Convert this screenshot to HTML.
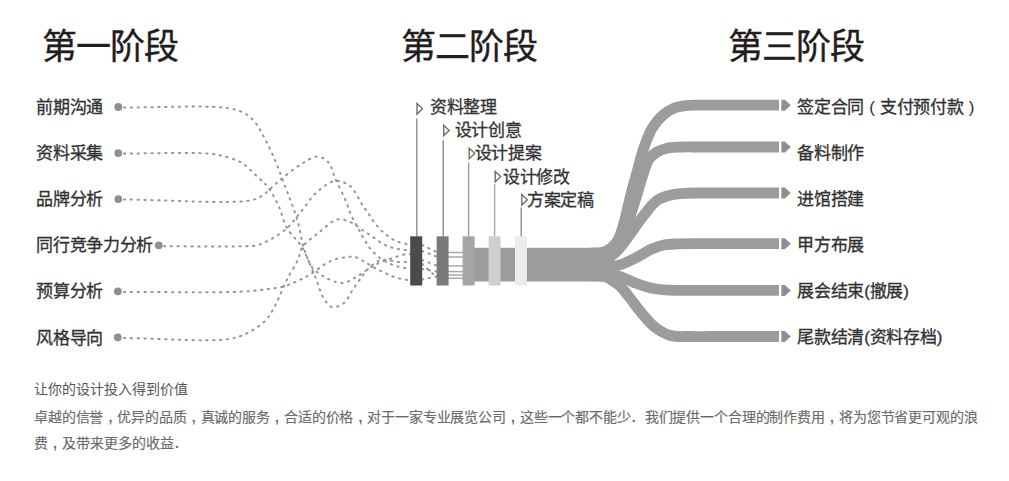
<!DOCTYPE html>
<html lang="zh-CN"><head><meta charset="utf-8"><style>
html,body{margin:0;padding:0;background:#fff;width:1009px;height:481px;overflow:hidden;position:relative}
.pp{display:inline-block;width:15.5px;text-align:center;font-family:"Liberation Sans",sans-serif;font-weight:400;-webkit-text-stroke:0}
.cm{display:inline-block;width:14px;text-align:center;font-family:"Liberation Sans",sans-serif;font-weight:700;-webkit-text-stroke:0}
.dt{display:inline-block;width:14px;text-align:left;text-indent:1px;font-family:"Liberation Sans",sans-serif;font-weight:700;-webkit-text-stroke:0}
.t{position:absolute;font-weight:500;white-space:nowrap;font-family:"Liberation Sans",sans-serif;line-height:1.2}
</style></head><body>
<svg width="1009" height="481" viewBox="0 0 1009 481" style="position:absolute;left:0;top:0">
<g fill="none" stroke="#959595" stroke-width="2" stroke-linecap="round" stroke-dasharray="1.3 5.55">
<path d="M124.00,107.50 C156.67,107.50 201.88,105.32 222.00,107.50 C231.10,108.49 236.04,109.27 241.60,111.80 C246.48,114.02 250.23,116.83 254.00,121.00 C258.74,126.25 262.69,134.73 266.50,142.00 C270.37,149.39 273.75,157.21 277.00,165.00 C280.26,172.81 283.36,181.89 286.00,188.80 C288.05,194.15 289.66,197.93 291.50,203.00 C293.59,208.76 295.86,214.77 297.80,221.60 C300.10,229.71 301.12,239.37 304.00,248.60 C307.18,258.79 313.03,271.12 316.50,280.00 C319.04,286.52 320.12,292.30 323.00,297.00 C325.47,301.04 328.43,306.06 332.00,307.00 C335.46,307.91 340.73,305.50 344.00,303.00 C347.50,300.33 349.24,295.07 352.00,291.00 C354.89,286.74 358.02,282.00 361.00,278.00 C363.68,274.40 365.80,270.94 369.00,268.00 C372.40,264.89 376.36,261.13 381.00,260.00 C386.20,258.74 393.73,261.71 399.00,262.00 C403.11,262.23 406.33,262.00 410.00,262.00"/>
<path d="M124.00,153.50 C152.00,153.50 192.30,152.28 208.00,153.50 C214.16,153.98 216.08,154.31 220.80,155.50 C226.96,157.05 235.40,159.14 241.60,162.80 C247.79,166.45 253.19,172.86 258.00,177.40 C261.98,181.15 265.36,183.68 268.60,188.00 C272.49,193.19 275.95,200.40 279.00,207.00 C282.10,213.72 283.28,221.44 287.00,228.00 C290.86,234.81 297.78,240.36 302.00,247.00 C306.05,253.38 307.96,261.95 312.00,267.00 C315.22,271.03 318.59,273.48 323.00,276.00 C328.27,279.01 335.97,283.18 342.00,283.00 C347.60,282.83 352.87,278.80 358.00,276.00 C363.21,273.15 367.87,268.79 373.00,266.00 C377.88,263.34 382.64,261.43 388.00,259.50 C393.90,257.38 403.38,254.51 407.00,254.00 C408.41,253.80 409.00,254.00 410.00,254.00"/>
<path d="M124.00,199.50 C166.00,199.83 230.10,204.21 250.00,200.50 C256.47,199.29 259.10,197.57 262.40,195.60 C264.97,194.07 266.29,192.41 268.60,190.40 C271.64,187.75 274.84,184.45 279.00,181.00 C284.70,176.26 293.08,169.21 300.00,165.00 C305.96,161.37 312.50,156.41 317.70,156.60 C321.93,156.75 326.17,159.76 329.00,163.00 C332.16,166.62 332.61,172.53 335.00,178.00 C337.99,184.83 342.97,193.94 345.80,200.70 C348.00,205.96 348.95,210.42 351.00,215.00 C353.02,219.51 355.75,223.85 358.00,228.00 C360.07,231.82 361.77,235.35 364.00,239.00 C366.35,242.85 368.69,247.04 371.80,250.50 C375.00,254.06 378.94,257.41 383.00,260.00 C387.01,262.56 391.50,264.50 396.00,266.00 C400.50,267.50 405.33,268.00 410.00,269.00"/>
<path d="M164.00,246.30 C189.33,246.30 223.74,246.78 240.00,246.30 C247.70,246.07 251.74,246.56 257.00,245.30 C261.93,244.12 266.03,241.90 270.70,239.30 C276.13,236.28 282.48,232.24 287.40,227.80 C292.22,223.45 295.55,218.37 300.00,213.00 C305.19,206.73 310.37,197.86 316.60,192.40 C322.28,187.43 329.38,181.65 335.40,181.00 C340.44,180.46 345.79,182.73 350.00,186.00 C355.10,189.97 359.04,200.04 362.40,205.00 C364.60,208.26 366.01,210.11 368.00,213.00 C370.33,216.37 372.69,220.57 375.50,224.00 C378.32,227.44 381.48,230.76 384.90,233.60 C388.31,236.43 391.92,239.12 396.00,241.00 C400.26,242.97 405.33,243.67 410.00,245.00"/>
<path d="M124.00,292.00 C163.20,291.87 216.22,292.86 241.60,291.60 C253.79,290.99 260.74,290.10 268.60,289.00 C274.77,288.14 279.73,287.55 285.00,286.00 C290.20,284.47 295.46,281.95 300.00,279.80 C303.95,277.93 306.67,276.43 310.80,274.00 C316.67,270.54 324.83,263.42 331.60,260.60 C337.18,258.28 343.66,257.47 348.00,257.00 C350.80,256.70 352.57,256.42 355.00,257.00 C357.96,257.71 361.23,260.00 364.30,261.70 C367.43,263.43 370.31,265.48 373.60,267.30 C377.15,269.26 381.12,271.27 384.90,273.00 C388.59,274.69 392.02,276.38 396.00,277.60 C400.34,278.93 405.33,279.53 410.00,280.50"/>
<path d="M124.00,338.00 C159.00,338.33 208.34,342.22 229.00,339.00 C237.97,337.60 241.91,335.71 247.80,332.80 C253.75,329.86 260.16,325.61 264.50,321.40 C268.12,317.89 270.38,314.00 272.80,310.00 C275.21,306.00 276.82,302.03 279.00,297.40 C281.63,291.80 284.31,284.87 287.40,278.70 C290.56,272.40 295.17,265.77 297.80,260.00 C299.91,255.37 299.70,251.11 302.50,247.00 C306.03,241.82 313.23,237.07 319.00,232.50 C324.85,227.86 331.47,220.61 337.40,219.40 C342.06,218.45 346.82,220.62 351.00,222.40 C355.15,224.17 358.61,227.49 362.40,230.00 C366.15,232.49 369.86,234.91 373.60,237.40 C377.36,239.91 381.01,243.11 384.90,245.00 C388.50,246.75 392.04,247.70 396.00,248.60 C400.35,249.59 405.33,249.87 410.00,250.50"/>
<path d="M422,245.0 L436.5,252.0"/>
<path d="M422,251.0 L436.5,256.5"/>
<path d="M422,260.0 L436.5,265.5"/>
<path d="M422,264.0 L436.5,277.0"/>
<path d="M422,269.0 L436.5,271.5"/>
<path d="M422,279.5 L436.5,276.5"/>
</g>
<g stroke="#a8a8a8" stroke-width="1.5">
<line x1="448" y1="252.5" x2="463" y2="252.5"/>
<line x1="448" y1="257.0" x2="463" y2="257.0"/>
<line x1="448" y1="266.0" x2="463" y2="266.0"/>
<line x1="448" y1="271.6" x2="463" y2="271.6"/>
<line x1="448" y1="275.0" x2="463" y2="275.0"/>
<line x1="448" y1="278.3" x2="463" y2="278.3"/>
</g>
<g fill="#8f8f8f">
<circle cx="118.3" cy="107.0" r="3.9"/>
<circle cx="118.3" cy="153.1" r="3.9"/>
<circle cx="118.3" cy="199.1" r="3.9"/>
<circle cx="158.8" cy="245.3" r="3.9"/>
<circle cx="117.8" cy="291.3" r="3.9"/>
<circle cx="117.8" cy="337.3" r="3.9"/>
</g>
<line x1="416.8" y1="118.5" x2="416.8" y2="237" stroke="#8e8e8e" stroke-width="1.4"/>
<line x1="443.2" y1="140.5" x2="443.2" y2="237" stroke="#8a8a8a" stroke-width="1.4"/>
<line x1="468.6" y1="162.5" x2="468.6" y2="237" stroke="#9c9c9c" stroke-width="1.4"/>
<line x1="494.6" y1="184.0" x2="494.6" y2="237" stroke="#ababab" stroke-width="1.4"/>
<line x1="521.2" y1="207.5" x2="521.2" y2="237" stroke="#8e8e8e" stroke-width="1.4"/>
<g fill="none" stroke="#6e6e6e" stroke-width="1.4" stroke-linejoin="miter">
<path d="M417.0,103.6 L422.5,108.8 L417.0,114.0 Z"/>
<path d="M443.7,125.2 L449.2,130.4 L443.7,135.6 Z"/>
<path d="M469.2,148.3 L474.7,153.5 L469.2,158.7 Z"/>
<path d="M495.2,171.4 L500.7,176.6 L495.2,181.8 Z"/>
<path d="M521.8,194.6 L527.3,199.8 L521.8,205.0 Z"/>
</g>
<rect x="474" y="247.8" width="134" height="33.7" fill="#9c9c9c"/>
<rect x="410.2" y="236.3" width="12" height="49.2" fill="#4d4a4b"/>
<rect x="436.6" y="236.3" width="12" height="49.2" fill="#797979"/>
<rect x="462.6" y="236.3" width="12" height="49.2" fill="#a6a6a6"/>
<rect x="488.6" y="236.3" width="12" height="49.2" fill="#cfcfcf"/>
<rect x="515.0" y="236.3" width="12" height="49.2" fill="#ececec"/>
<g fill="none" stroke="#9c9c9c" stroke-width="10.8">
<path d="M604.00,262.00 C608.50,255.20 614.04,248.64 617.50,241.60 C620.76,234.98 622.41,228.33 624.50,221.10 C626.79,213.21 628.43,204.08 630.50,196.00 C632.44,188.41 634.41,181.56 636.50,174.00 C638.73,165.93 640.79,156.84 643.50,149.00 C646.01,141.75 648.42,134.44 652.00,128.50 C655.23,123.14 659.33,118.16 663.50,114.60 C667.09,111.54 670.90,109.33 675.00,107.80 C679.07,106.27 683.36,105.85 688.00,105.40 C693.27,104.89 699.10,105.23 705.00,105.20 C711.40,105.16 716.71,105.20 725.00,105.20 C738.62,105.20 761.00,105.20 779.00,105.20"/>
<path d="M600.00,262.00 C606.00,255.67 613.27,249.90 618.00,243.00 C622.46,236.50 625.16,229.03 628.00,222.00 C630.72,215.26 632.75,208.15 634.80,201.70 C636.65,195.88 638.14,190.41 639.80,185.00 C641.37,179.86 642.85,174.58 644.50,170.00 C645.94,166.02 646.82,162.05 649.00,159.00 C651.06,156.12 654.01,153.80 657.00,152.00 C660.00,150.20 663.39,149.02 667.00,148.20 C670.99,147.29 675.20,147.31 680.00,147.10 C685.95,146.83 693.33,147.02 700.00,147.00 C706.67,146.98 711.57,147.00 720.00,147.00 C734.47,147.00 759.33,147.00 779.00,147.00"/>
<path d="M604.00,262.00 C608.67,258.00 613.66,254.60 618.00,250.00 C622.64,245.08 626.52,238.94 630.80,233.20 C635.22,227.25 639.58,220.52 644.10,214.90 C648.26,209.73 652.10,203.93 656.80,200.60 C660.86,197.73 665.38,196.42 670.00,195.20 C674.76,193.95 679.63,193.68 685.00,193.30 C691.18,192.86 698.33,193.05 705.00,193.00 C711.67,192.95 716.71,193.00 725.00,193.00 C738.62,193.00 761.00,193.00 779.00,193.00"/>
<path d="M598.00,266.00 C602.67,266.17 607.70,266.93 612.00,266.50 C615.78,266.12 618.72,265.33 622.50,264.00 C627.31,262.31 633.29,259.09 638.30,256.50 C642.99,254.08 647.23,250.95 651.70,249.00 C655.80,247.21 659.71,245.85 664.00,245.00 C668.47,244.11 672.80,244.13 678.00,243.90 C684.50,243.62 692.84,243.73 700.00,243.70 C706.83,243.67 711.57,243.70 720.00,243.70 C734.47,243.70 759.33,243.70 779.00,243.70"/>
<path d="M598.00,270.00 C602.67,271.33 607.44,272.56 612.00,274.00 C616.43,275.40 620.82,276.88 625.00,278.50 C629.01,280.05 632.33,281.95 636.60,283.50 C641.61,285.32 647.68,287.38 653.30,288.50 C658.82,289.60 663.61,289.85 670.00,290.20 C678.54,290.66 691.01,290.37 700.00,290.40 C707.34,290.42 711.57,290.40 720.00,290.40 C734.47,290.40 759.33,290.40 779.00,290.40"/>
<path d="M598.00,272.00 C602.00,274.33 606.23,276.59 610.00,279.00 C613.53,281.26 616.89,283.13 620.00,286.00 C623.44,289.17 626.17,293.34 629.50,297.50 C633.35,302.30 637.42,308.20 641.70,313.20 C645.93,318.13 650.05,323.54 655.00,327.30 C659.70,330.88 664.85,333.94 670.50,335.50 C676.46,337.14 683.46,336.33 690.00,336.50 C696.62,336.67 703.33,336.50 710.00,336.50 C716.67,336.50 721.86,336.50 730.00,336.50 C742.73,336.50 762.67,336.50 779.00,336.50"/>
</g>
<path d="M590,247.7 L598,247.6 C605,247.2 611,243 617,231 L620,231 L611,261 L590,261 Z M590,281.3 L600,281.3 C606,281.8 611,284 616,289 L622,280 L590,275 Z" fill="#9c9c9c"/>
<g fill="#8e8e8e">
<path d="M781.4,99.7 L784.8,99.7 L790.8,105.2 L784.8,110.7 L781.4,110.7 Z"/>
<path d="M781.4,141.5 L784.8,141.5 L790.8,147.0 L784.8,152.5 L781.4,152.5 Z"/>
<path d="M781.4,187.5 L784.8,187.5 L790.8,193.0 L784.8,198.5 L781.4,198.5 Z"/>
<path d="M781.4,238.2 L784.8,238.2 L790.8,243.7 L784.8,249.2 L781.4,249.2 Z"/>
<path d="M781.4,284.9 L784.8,284.9 L790.8,290.4 L784.8,295.9 L781.4,295.9 Z"/>
<path d="M781.4,331.0 L784.8,331.0 L790.8,336.5 L784.8,342.0 L781.4,342.0 Z"/>
</g>
</svg>
<div class="t" style="left:42.0px;top:26.0px;font-size:35.00px;color:#231c1c;letter-spacing:-1px;-webkit-text-stroke:0.35px #231c1c">第一阶段</div>
<div class="t" style="left:401.0px;top:26.0px;font-size:35.00px;color:#231c1c;letter-spacing:-1px;-webkit-text-stroke:0.35px #231c1c">第二阶段</div>
<div class="t" style="left:728.0px;top:26.0px;font-size:35.00px;color:#231c1c;letter-spacing:-1px;-webkit-text-stroke:0.35px #231c1c">第三阶段</div>
<div class="t" style="left:36.2px;top:98.0px;font-size:17.00px;color:#303030;-webkit-text-stroke:0.3px #303030;letter-spacing:-0.3px">前期沟通</div>
<div class="t" style="left:36.2px;top:144.1px;font-size:17.00px;color:#303030;-webkit-text-stroke:0.3px #303030;letter-spacing:-0.3px">资料采集</div>
<div class="t" style="left:36.2px;top:190.2px;font-size:17.00px;color:#303030;-webkit-text-stroke:0.3px #303030;letter-spacing:-0.3px">品牌分析</div>
<div class="t" style="left:36.2px;top:236.3px;font-size:17.00px;color:#303030;-webkit-text-stroke:0.3px #303030;letter-spacing:-0.3px">同行竞争力分析</div>
<div class="t" style="left:36.2px;top:282.4px;font-size:17.00px;color:#303030;-webkit-text-stroke:0.3px #303030;letter-spacing:-0.3px">预算分析</div>
<div class="t" style="left:36.2px;top:328.5px;font-size:17.00px;color:#303030;-webkit-text-stroke:0.3px #303030;letter-spacing:-0.3px">风格导向</div>
<div class="t" style="left:430.0px;top:98.2px;font-size:17.00px;color:#333;-webkit-text-stroke:0.3px #333;letter-spacing:-0.3px">资料整理</div>
<div class="t" style="left:454.5px;top:121.3px;font-size:17.00px;color:#333;-webkit-text-stroke:0.3px #333;letter-spacing:-0.3px">设计创意</div>
<div class="t" style="left:474.5px;top:144.4px;font-size:17.00px;color:#333;-webkit-text-stroke:0.3px #333;letter-spacing:-0.3px">设计提案</div>
<div class="t" style="left:503.0px;top:167.5px;font-size:17.00px;color:#333;-webkit-text-stroke:0.3px #333;letter-spacing:-0.3px">设计修改</div>
<div class="t" style="left:527.0px;top:190.6px;font-size:17.00px;color:#333;-webkit-text-stroke:0.3px #333;letter-spacing:-0.3px">方案定稿</div>
<div class="t" style="left:797.0px;top:98.3px;font-size:17.00px;color:#303030;-webkit-text-stroke:0.3px #303030;letter-spacing:-0.2px">签定合同<span class="pp">(</span>支付预付款<span class="pp">)</span></div>
<div class="t" style="left:797.0px;top:144.3px;font-size:17.00px;color:#303030;-webkit-text-stroke:0.3px #303030;letter-spacing:-0.2px">备料制作</div>
<div class="t" style="left:797.0px;top:190.3px;font-size:17.00px;color:#303030;-webkit-text-stroke:0.3px #303030;letter-spacing:-0.2px">进馆搭建</div>
<div class="t" style="left:797.0px;top:236.3px;font-size:17.00px;color:#303030;-webkit-text-stroke:0.3px #303030;letter-spacing:-0.2px">甲方布展</div>
<div class="t" style="left:797.0px;top:282.3px;font-size:17.00px;color:#303030;-webkit-text-stroke:0.3px #303030;letter-spacing:-0.2px">展会结束(撤展)</div>
<div class="t" style="left:797.0px;top:328.3px;font-size:17.00px;color:#303030;-webkit-text-stroke:0.3px #303030;letter-spacing:-0.2px">尾款结清(资料存档)</div>
<div class="t" style="left:34.0px;top:380.8px;font-size:14.00px;color:#555;">让你的设计投入得到价值</div>
<div class="t" style="left:34.0px;top:408.9px;font-size:14.00px;color:#6a6a6a;letter-spacing:-0.14px;-webkit-text-stroke:0.15px #6a6a6a">卓越的信誉<span class="cm">,</span>优异的品质<span class="cm">,</span>真诚的服务<span class="cm">,</span>合适的价格<span class="cm">,</span>对于一家专业展览公司<span class="cm">,</span>这些一个都不能少<span class="dt">.</span>我们提供一个合理的制作费用<span class="cm">,</span>将为您节省更可观的浪</div>
<div class="t" style="left:34.0px;top:435.2px;font-size:14.00px;color:#6a6a6a;-webkit-text-stroke:0.15px #6a6a6a">费<span class="cm">,</span>及带来更多的收益<span class="dt">.</span></div>
</body></html>
